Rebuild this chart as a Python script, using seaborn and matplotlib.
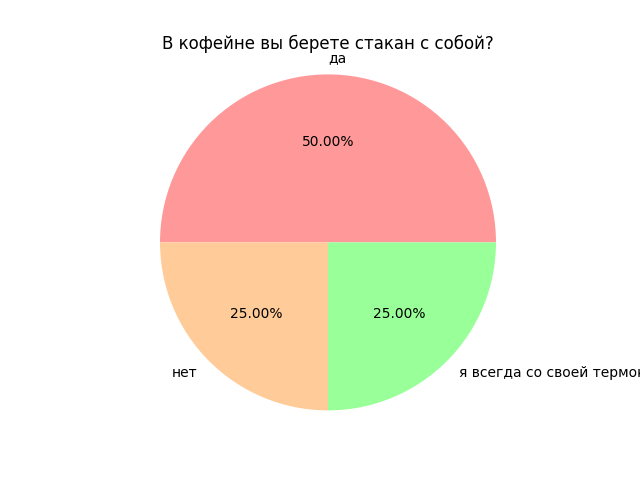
import matplotlib
matplotlib.use("Agg")
import matplotlib.pyplot as plt
import seaborn as sns

# данные опроса
labels = ['да', 'нет', 'я всегда со своей термокружкой']
values = [2, 1, 1]
colors = ['#ff9999', '#ffcc99', '#99ff99']

sns.set_palette(colors)

fig, ax = plt.subplots(figsize=(6.4, 4.8), dpi=100)
wedges, texts, autotexts = ax.pie(values, labels=labels, colors=colors, autopct='%.2f%%')
# подпись "да" в оригинале выровнена влево от верхней точки
texts[0].set_horizontalalignment('left')
ax.set_title('В кофейне вы берете стакан с собой?')
ax.axis('equal')

plt.savefig('out.png')
